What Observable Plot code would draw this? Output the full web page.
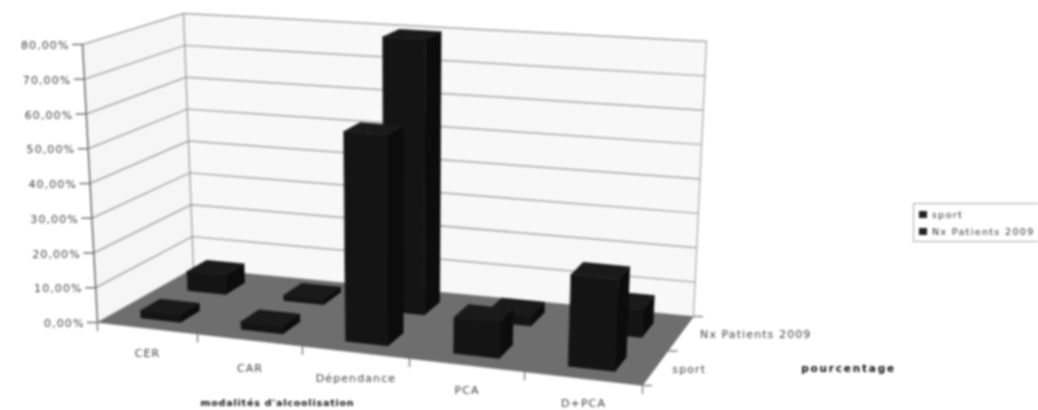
<!DOCTYPE html>
<html><head><meta charset="utf-8">
<script src="https://cdn.jsdelivr.net/npm/d3@7"></script>
<script src="https://cdn.jsdelivr.net/npm/@observablehq/plot@0.6"></script>
<style>
html,body{margin:0;padding:0;background:#fff;overflow:hidden;width:1038px;height:410px}
#chart{position:relative;width:1038px;height:410px;filter:blur(.8px);overflow:hidden}
#legend{position:absolute;left:913px;top:203px;width:140px;height:39px;border:1.5px solid #aaa;font:9.5px "DejaVu Sans",sans-serif;letter-spacing:1.35px;color:#333;box-sizing:border-box}
#legend div{position:absolute;left:18px;white-space:nowrap}
#legend i{position:absolute;left:-13px;top:2px;width:8px;height:7px;background:#222}
.lab text{letter-spacing:1.1px}
.t1 text{letter-spacing:.8px}
.t2 text{letter-spacing:1.8px}
</style></head><body><div id="chart"></div>
<script>
const categories = ["CER","CAR","Dépendance","PCA","D+PCA"];
const seriesNames = ["sport","Nx Patients 2009"];
const sport = [2.2,2.2,59,10,25];
const patients = [5.8,1.6,80.5,3,8];
const ticks = [0,10,20,30,40,50,60,70,80];
const tickLabels = ["0,00%","10,00%","20,00%","30,00%","40,00%","50,00%","60,00%","70,00%","80,00%"];
const categoryEdges = [0,.1835,.376,.5725,.7835,1];

// perspective frame of the 3D box on the page
const F={a0:[97,322],a1:[82,44],d0:[642,385],d1:[655,85],b0:[193,268],b1:[183,13],c0:[693,316],c1:[706,41]};
const lerp=(p,q,t)=>[p[0]+(q[0]-p[0])*t,p[1]+(q[1]-p[1])*t];
const warp=d3.scaleLinear().domain(d3.range(6)).range(categoryEdges);
function P(cat,depth,val){
  const u=warp(cat),t=val/80;
  const front=lerp(lerp(F.a0,F.d0,u),lerp(F.a1,F.d1,u),t);
  const back=lerp(lerp(F.b0,F.c0,u),lerp(F.b1,F.c1,u),t);
  return lerp(front,back,depth);
}
const poly=(pts,fill)=>Plot.line(pts,{x:d=>d[0],y:d=>d[1],fill,stroke:fill,strokeWidth:.5,curve:"linear-closed"});
const seg=(pts,stroke,strokeWidth=1.3)=>Plot.line(pts,{x:d=>d[0],y:d=>d[1],stroke,strokeWidth});
const off=(p,dx,dy)=>[p[0]+dx,p[1]+dy];
const label=(p,text,o={})=>Plot.text([p],{x:d=>d[0],y:d=>d[1],text:()=>text,fill:"#444",fontSize:11,fontFamily:"DejaVu Sans",className:"lab",...o});

const hw=.2,hd=.105;
function bar(i,depthC,v,cols=["#0c0c0c","#141414","#1a1a1a"]){
  const c=i+.5,l=c-hw,r=c+hw,f=depthC-hd,b=depthC+hd;
  return [
    poly([P(r,f,0),P(r,b,0),P(r,b,v),P(r,f,v)],cols[0]),
    poly([P(l,f,0),P(r,f,0),P(r,f,v),P(l,f,v)],cols[1]),
    poly([P(l,f,v),P(r,f,v),P(r,b,v),P(l,b,v)],cols[2])
  ];
}
const catDrop=[25,28,26,25,25];
const marks=[
  poly([P(0,0,0),P(0,1,0),P(0,1,80),P(0,0,80)],"#f6f6f6"),
  poly([P(0,1,0),P(5,1,0),P(5,1,80),P(0,1,80)],"#f8f8f8"),
  poly([P(0,0,0),P(5,0,0),P(5,1,0),P(0,1,0)],"#6e6e6e"),
  ...ticks.filter(t=>t>0).map(t=>seg([P(0,0,t),P(0,1,t),P(5,1,t)],"#a8a8a8",1.5)),
  seg([P(0,1,0),P(0,1,80)],"#a0a0a0"),
  seg([P(5,1,0),P(5,1,80)],"#b0b0b0"),
  seg([P(0,0,0),P(0,0,80)],"#555",1.3),
  ...ticks.map(t=>seg([off(P(0,0,t),-10,0),P(0,0,t)],"#777")),
  ...ticks.map((t,k)=>label(off(P(0,0,t),-13,1),tickLabels[k],{textAnchor:"end"})),
  ...d3.range(6).map(i=>seg([P(i,0,0),off(P(i,0,0),0,8)],"#777")),
  ...[0,.5,1].map(d=>seg([P(5,d,0),off(P(5,d,0),9,0)],"#888")),
  ...categories.map((c,i)=>label(off(P(i+.5,0,0),0,catDrop[i]),c,{textAnchor:"middle"})),
  label(off(P(5,.25,0),34,1),seriesNames[0],{textAnchor:"middle"}),
  label(off(P(5,.75,0),75,1),seriesNames[1],{textAnchor:"middle"}),
  ...patients.flatMap((v,i)=>bar(i,.75,v)),
  ...sport.flatMap((v,i)=>bar(i,.25,v)),
  label([277,402],"modalités d'alcoolisation",{textAnchor:"middle",fontWeight:"bold",fontSize:9.5,fill:"#111",className:"t1"}),
  label([848,368],"pourcentage",{textAnchor:"middle",fontWeight:"bold",fontSize:10.5,fill:"#111",className:"t2"})
];
const plot=Plot.plot({width:1038,height:410,margin:0,
  x:{domain:[0,1038],range:[0,1038],axis:null},
  y:{domain:[0,410],range:[0,410],axis:null},
  marks});
plot.style.background="#fff";
const el=document.getElementById("chart");
el.append(plot);
const lg=document.createElement("div");lg.id="legend";
seriesNames.forEach((n,i)=>{const d=document.createElement("div");d.style.top=(5+i*17)+"px";d.innerHTML="<i></i>";d.append(n);lg.append(d)});
el.append(lg);
</script></body></html>
